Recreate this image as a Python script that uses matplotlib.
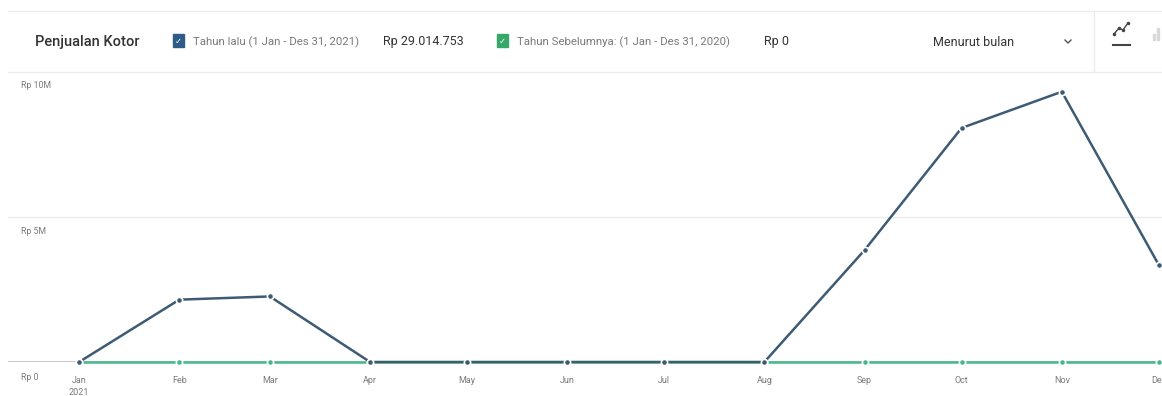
import numpy as np
import matplotlib.pyplot as plt
import matplotlib.dates as mdates
from datetime import date, timedelta

# monthly gross sales (Rp)
months = [date(2021, m, 1) for m in range(1, 13)]
month_labels = ["Jan\n2021", "Feb", "Mar", "Apr", "May", "Jun",
                "Jul", "Aug", "Sep", "Oct", "Nov", "Dec"]
sales_2021 = [0, 2.15e6, 2.26e6, 0, 0, 0, 0, 0, 3.86e6, 8.07e6, 9.32e6, 3.35e6]
sales_2020 = [0] * 12
y_ticks = [0, 5e6, 10e6]
y_labels = ["Rp 0", "Rp 5M", "Rp 10M"]

BLUE = "#3e5b74"
GREEN = "#46b98a"
TXT = "#333333"
MUTED = "#7a7a7a"

plt.rcParams['font.family'] = ['Roboto', 'DejaVu Sans']

W, H = 1162, 396
fig = plt.figure(figsize=(W / 100, H / 100), dpi=100)

def fx(px):
    return px / W

def fy(py):
    return 1 - py / H

# plot area: y=0 at pixel 362, y=10M at pixel 72
ax = fig.add_axes([fx(8), fy(362), fx(1154), (362 - 72) / H])
ax.set_xlim(date(2021, 1, 1) - timedelta(days=22.3), date(2021, 12, 1) + timedelta(days=1.2))
ax.set_ylim(0, 10e6)
for s in ax.spines.values():
    s.set_visible(False)

for v in y_ticks[1:]:
    ax.axhline(v, color="#ececec", lw=1, zorder=0, clip_on=False)
ax.axhline(0, color="#c9c9c9", lw=1.5, zorder=0)

ax.plot(months, sales_2020, color=GREEN, lw=1.8, marker="o", ms=4.5,
        mec="white", mew=1.2, clip_on=False, zorder=2)
ax.plot(months, sales_2021, color=BLUE, lw=1.8, marker="o", ms=4.5,
        mec="white", mew=1.2, clip_on=False, zorder=3)

ax.set_xticks(months)
ax.set_xticklabels(month_labels, fontsize=6.5, color=MUTED, linespacing=1.4)
ax.tick_params(axis="x", length=0, pad=10)
ax.set_yticks([])

for v, lab in zip(y_ticks, y_labels):
    off = -14 if v > 0 else -16
    ax.annotate(lab, xy=(0, v), xycoords=("axes fraction", "data"),
                xytext=(13 if v > 0 else 22, off), textcoords="offset pixels",
                fontsize=6.3, color=MUTED, ha="left" if v > 0 else "center",
                va="center")

# header bar
fig.add_artist(plt.Line2D([fx(8), 1], [fy(11), fy(11)], color="#ececec", lw=1))
fig.add_artist(plt.Line2D([fx(1094), fx(1094)], [fy(12), fy(71)], color="#ececec", lw=1))

hy = fy(42)
fig.text(fx(35), hy, "Penjualan Kotor", fontsize=10.5, color=TXT, va="center",
         weight="medium")

def checkbox(x, color):
    fig.add_artist(plt.Rectangle((fx(x), fy(47)), fx(11), 13 / H, color=color,
                                 transform=fig.transFigure))
    fig.text(fx(x + 5.5), fy(41), "\u2713", fontsize=6, color="white",
             ha="center", va="center", family="DejaVu Sans")

checkbox(173, "#2f5c86")
fig.text(fx(193), hy, "Tahun lalu (1 Jan - Des 31, 2021)", fontsize=8.2, color=MUTED, va="center")
fig.text(fx(383), hy, "Rp 29.014.753", fontsize=9, color=TXT, va="center")
checkbox(497, "#35a86a")
fig.text(fx(517), hy, "Tahun Sebelumnya: (1 Jan - Des 31, 2020)", fontsize=8.2, color=MUTED, va="center")
fig.text(fx(764), hy, "Rp 0", fontsize=9, color=TXT, va="center")
fig.text(fx(933), hy, "Menurut bulan", fontsize=9, color=TXT, va="center")
fig.add_artist(plt.Line2D([fx(1065), fx(1068), fx(1071)], [fy(40), fy(43), fy(40)],
                          color="#555555", lw=1))

# chart-type icons
fig.add_artist(plt.Line2D([fx(1114), fx(1119), fx(1123), fx(1128)],
                          [fy(34), fy(28), fy(30), fy(23)], color="#444444", lw=1,
                          marker="o", ms=1.5))
fig.add_artist(plt.Line2D([fx(1113), fx(1130)], [fy(45), fy(45)], color="#444444", lw=1.5))
for bx, bh in [(1153, 6), (1157, 12)]:
    fig.add_artist(plt.Rectangle((fx(bx), fy(40)), fx(2), bh / H, color="#d8d8d8",
                                 transform=fig.transFigure))

fig.savefig("out.png", dpi=100, facecolor="white")
